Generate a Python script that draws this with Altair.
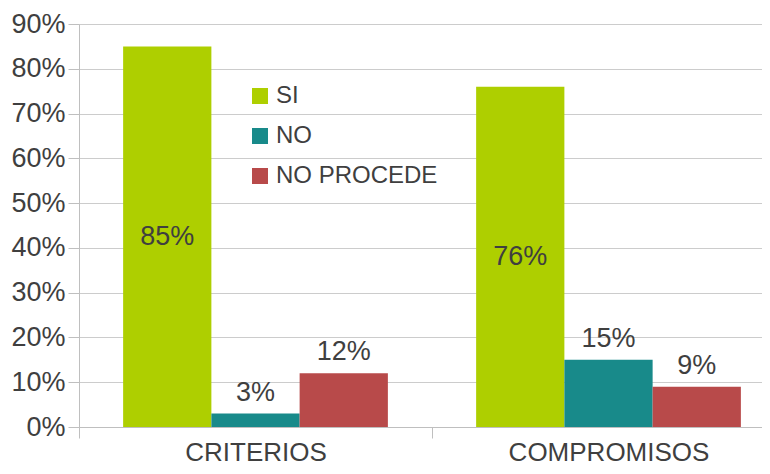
import altair as alt
import pandas as pd

categories = ["CRITERIOS", "COMPROMISOS"]
series = ["SI", "NO", "NO PROCEDE"]
si_values = [0.85, 0.76]
no_values = [0.03, 0.15]
np_values = [0.12, 0.09]
colors = ["#AECF00", "#188A8A", "#B84A4A"]
y_ticks = [0, 0.1, 0.2, 0.3, 0.4, 0.5, 0.6, 0.7, 0.8, 0.9]

rows = []
for s, vals in zip(series, [si_values, no_values, np_values]):
    for c, v in zip(categories, vals):
        rows.append({"category": c, "series": s, "value": v, "mid": v / 2})
df = pd.DataFrame(rows)

FONT = "Liberation Sans"
TXT = "#3F3F3F"
AX = "#BFBFBF"

x = alt.X("category:N", sort=categories,
          scale=alt.Scale(domain=categories, paddingInner=0, paddingOuter=0, range=[0, 706]),
          axis=alt.Axis(title=None, labelAngle=0, tickBand="extent", tickSize=11,
                        tickColor=AX, domainColor=AX, labelFontSize=26, labelColor=TXT,
                        labelFont=FONT, labelBaseline="alphabetic", labelPadding=22,
                        labelLimit=400, grid=False))
xo = alt.XOffset("series:N", sort=series,
                 scale=alt.Scale(domain=series, paddingInner=0, paddingOuter=0.5))

base = alt.Chart(df)

bars = base.mark_bar().encode(
    x=x,
    xOffset=xo,
    y=alt.Y("value:Q", scale=alt.Scale(domain=[0, 0.9], nice=False),
            axis=alt.Axis(title=None, format="%", values=y_ticks, grid=True,
                          gridColor="#CCCCCC", domainColor=AX, tickColor=AX,
                          tickSize=11, labelFontSize=27, labelColor=TXT,
                          labelFont=FONT, labelPadding=3)),
    color=alt.Color("series:N", sort=series,
                    scale=alt.Scale(domain=series, range=colors),
                    legend=alt.Legend(title=None, orient="none", legendX=169, legendY=60,
                                      symbolType="square", symbolSize=256,
                                      symbolStrokeWidth=0, labelFontSize=24,
                                      labelColor=TXT, labelFont=FONT, rowPadding=16,
                                      labelOffset=4, labelLimit=400)),
)

inside = base.transform_filter(alt.datum.series == "SI").mark_text(
    font=FONT, fontSize=27, color=TXT, baseline="middle"
).encode(x=x, xOffset=xo, y=alt.Y("mid:Q"), text=alt.Text("value:Q", format=".0%"))

outside = base.transform_filter(alt.datum.series != "SI").mark_text(
    font=FONT, fontSize=27, color=TXT, baseline="alphabetic", dy=-13
).encode(x=x, xOffset=xo, y=alt.Y("value:Q"), text=alt.Text("value:Q", format=".0%"))

chart = alt.layer(bars, inside, outside).properties(
    width=683, height=403,
    autosize=alt.AutoSizeParams(type="none"),
    padding={"left": 71, "top": 16, "right": 0, "bottom": 39},
).configure_view(stroke=None).configure(font=FONT)

chart.save("out.html", embed_options={"renderer": "svg", "actions": False})
